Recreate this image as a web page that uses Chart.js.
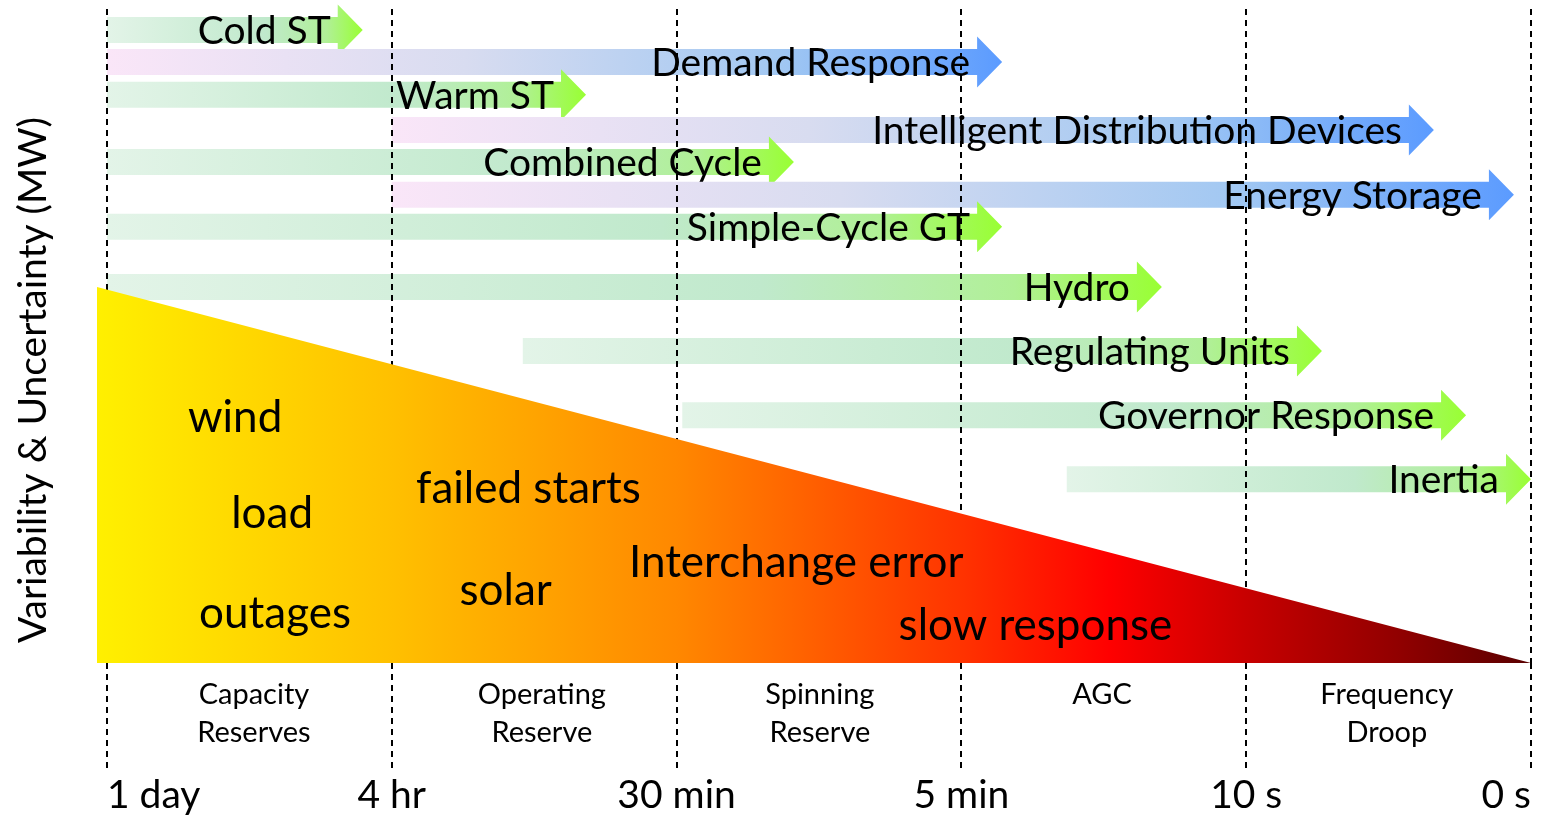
<!DOCTYPE html>
<html>
<head>
<meta charset="utf-8">
<script src="https://cdn.jsdelivr.net/npm/chart.js@4.4.1/dist/chart.umd.min.js"></script>
<style>
  html, body { margin: 0; padding: 0; background: #fff; }
</style>
</head>
<body>
<canvas id="chart" width="1548" height="818"></canvas>
<script>
// time horizon ticks and the reserve bands between them
const timeLabels = ['1 day', '4 hr', '30 min', '5 min', '10 s', '0 s'];
const reserveLabels = [['Capacity', 'Reserves'], ['Operating', 'Reserve'], ['Spinning', 'Reserve'], ['AGC'], ['Frequency', 'Droop']];
const reserveAt = [0.516, 1.527, 2.503, 3.494, 4.494];

// response resources (x = time horizon units, row = MW axis)
const arrowNames = ['Cold ST', 'Demand Response', 'Warm ST', 'Intelligent Distribution Devices', 'Combined Cycle',
    'Energy Storage', 'Simple-Cycle GT', 'Hydro', 'Regulating Units', 'Governor Response', 'Inertia'];
const arrowStart = [0, 0, 0, 1.0, 0, 1.0, 0, 0, 1.46, 2.02, 3.37];
const arrowEnd = [0.898, 3.143, 1.682, 4.659, 2.412, 4.94, 3.143, 3.704, 4.266, 4.772, 5.0];
const arrowRow = [96.8, 91.9, 86.9, 81.5, 76.6, 71.6, 66.7, 57.5, 47.7, 37.9, 28.1];
const arrowKind = ['gen', 'dr', 'gen', 'dr', 'gen', 'dr', 'gen', 'gen', 'gen', 'gen', 'gen'];

// variability & uncertainty wedge
const riskX = [-0.035, 5];
const riskY = [57.5, 0];

const riskLabels = ['wind', 'load', 'outages', 'failed starts', 'solar', 'Interchange error', 'slow response'];
const riskLabelX = [0.45, 0.58, 0.59, 1.48, 1.40, 2.42, 3.26];
const riskLabelY = [35.3, 20.6, 5.4, 24.5, 8.9, 13.1, 3.5];

const FONT = 'Lato, "Open Sans", sans-serif';

function arrowGradient(ctx, x0, x1, kind) {
    const g = ctx.createLinearGradient(x0, 0, x1, 0);
    if (kind === 'dr') {
        g.addColorStop(0, '#fae6f8');
        g.addColorStop(0.4, '#d8dcf0');
        g.addColorStop(0.75, '#a2c8f2');
        g.addColorStop(1, '#5b9bff');
    } else {
        g.addColorStop(0, '#e3f4e8');
        g.addColorStop(0.62, '#c0e9cc');
        g.addColorStop(0.86, '#b0f096');
        g.addColorStop(1, '#99ff33');
    }
    return g;
}

const arrowsPlugin = {
    id: 'arrows',
    beforeDraw(chart) {
        const { ctx, scales: { x, y } } = chart;
        ctx.save();
        arrowNames.forEach((name, i) => {
            const x0 = x.getPixelForValue(arrowStart[i]);
            const x1 = x.getPixelForValue(arrowEnd[i]);
            const yc = y.getPixelForValue(arrowRow[i]);
            const head = 25, shaft = 13, wing = 25.5;
            ctx.fillStyle = arrowGradient(ctx, x0, x1, arrowKind[i]);
            ctx.beginPath();
            ctx.moveTo(x0, yc - shaft);
            ctx.lineTo(x1 - head, yc - shaft);
            ctx.lineTo(x1 - head, yc - wing);
            ctx.lineTo(x1, yc);
            ctx.lineTo(x1 - head, yc + wing);
            ctx.lineTo(x1 - head, yc + shaft);
            ctx.lineTo(x0, yc + shaft);
            ctx.closePath();
            ctx.fill();

            ctx.fillStyle = '#000';
            ctx.font = '39px ' + FONT;
            ctx.textAlign = 'right';
            ctx.textBaseline = 'alphabetic';
            ctx.fillText(name, x1 - 32, yc + 14);
        });
        ctx.restore();
    },
    afterDraw(chart) {
        const { ctx, chartArea, scales: { x, y } } = chart;
        ctx.save();
        ctx.fillStyle = '#000';

        // labels inside the wedge
        ctx.font = '44px ' + FONT;
        ctx.textAlign = 'center';
        ctx.textBaseline = 'alphabetic';
        riskLabels.forEach((t, i) => {
            ctx.fillText(t, x.getPixelForValue(riskLabelX[i]), y.getPixelForValue(riskLabelY[i]));
        });

        // reserve bands under the axis
        ctx.font = '29px ' + FONT;
        reserveLabels.forEach((lines, i) => {
            const px = x.getPixelForValue(reserveAt[i]);
            lines.forEach((t, j) => ctx.fillText(t, px, chartArea.bottom + 41 + j * 38));
        });

        // y title
        ctx.translate(chartArea.left - 51, (chartArea.top + chartArea.bottom) / 2 + 44);
        ctx.rotate(-Math.PI / 2);
        ctx.font = '39px ' + FONT;
        ctx.fillText('Variability & Uncertainty (MW)', 0, 0);
        ctx.restore();
    }
};

function build() {
    new Chart(document.getElementById('chart'), {
        type: 'line',
        data: {
            datasets: [{
                data: riskX.map((v, i) => ({ x: v, y: riskY[i] })),
                fill: 'origin',
                borderWidth: 0,
                pointRadius: 0,
                tension: 0,
                backgroundColor(c) {
                    const { chartArea, ctx } = c.chart;
                    if (!chartArea) return '#ff8800';
                    const g = ctx.createLinearGradient(chartArea.left, 0, chartArea.right, 0);
                    g.addColorStop(0, '#fff000');
                    g.addColorStop(0.206, '#ffc000');
                    g.addColorStop(0.404, '#ff8800');
                    g.addColorStop(0.603, '#ff3300');
                    g.addColorStop(0.706, '#ff0000');
                    g.addColorStop(0.801, '#c80000');
                    g.addColorStop(0.909, '#900000');
                    g.addColorStop(1, '#5a0000');
                    return g;
                }
            }]
        },
        options: {
            responsive: false,
            animation: false,
            events: [],
            layout: { padding: { left: 97, right: 17, top: 9, bottom: 0 } },
            plugins: { legend: { display: false }, tooltip: { enabled: false } },
            scales: {
                x: {
                    type: 'linear',
                    min: riskX[0],
                    max: timeLabels.length - 1,
                    afterBuildTicks(s) { s.ticks = timeLabels.map((_, i) => ({ value: i })); },
                    afterFit(s) { s.height = 155; },
                    grid: {
                        color: '#000', lineWidth: 2,
                        drawTicks: true, tickLength: 107, tickColor: '#000', tickWidth: 2, tickBorderDash: [6, 5]
                    },
                    border: { display: false, dash: [6, 5] },
                    ticks: {
                        callback: v => timeLabels[v],
                        font: { family: FONT, size: 39 },
                        color: '#000',
                        padding: 2,
                        maxRotation: 0,
                        autoSkip: false,
                        align: 'inner'
                    }
                },
                y: { display: false, min: 0, max: 100 }
            }
        },
        plugins: [arrowsPlugin]
    });
}

document.fonts.load('39px Lato').then(build, build);
</script>
</body>
</html>
